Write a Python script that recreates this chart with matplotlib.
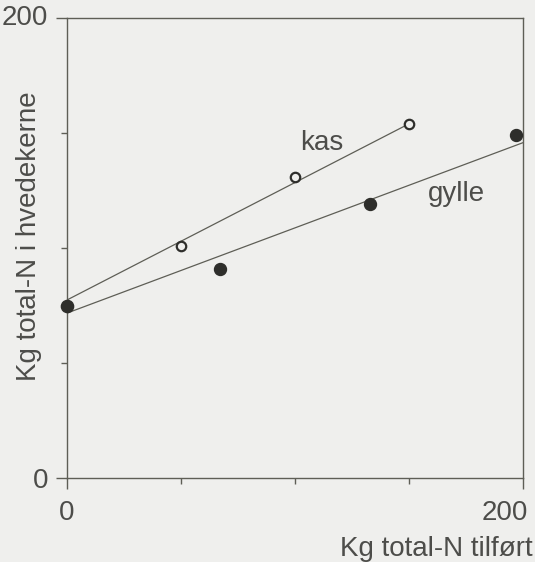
import matplotlib
matplotlib.use("Agg")
import matplotlib.pyplot as plt
import matplotlib.transforms as mtransforms

# ---- data ----
kas_x = [50, 100, 150]
kas_y = [101, 131, 154]
gylle_x = [67, 133, 197]
gylle_y = [91, 119, 149]
zero_x = [0]
zero_y = [75]

kas_line_x = [0, 150]
kas_line_y = [77.4, 154]
gylle_line_x = [0, 200]
gylle_line_y = [71.7, 145.8]

x_major = [0, 200]
x_minor = [50, 100, 150]
y_major = [0, 200]
y_minor = [50, 100, 150]
x_ticklabels = ["0", "200"]
y_ticklabels = ["0", "200"]

xlabel = "Kg total-N tilført"
ylabel = "Kg total-N i hvedekerne"

# ---- style ----
plt.rcParams['font.family'] = ['Liberation Sans', 'DejaVu Sans']
bg = "#efefed"
txt = "#4d4d4a"
linec = "#5e5e56"
markc = "#2e2e2b"
fs = 20

fig = plt.figure(figsize=(5.35, 5.62), dpi=100, facecolor=bg)
ax = fig.add_axes([67/535, 1 - 478/562, (523-67)/535, (478-18)/562])
ax.set_facecolor(bg)

ax.plot(kas_line_x, kas_line_y, color=linec, lw=0.9, zorder=2)
ax.plot(gylle_line_x, gylle_line_y, color=linec, lw=0.9, zorder=2)
ax.plot(kas_x, kas_y, 'o', ms=6.8, mfc=bg, mec=markc, mew=1.6, zorder=3, clip_on=False)
ax.plot(gylle_x, gylle_y, 'o', ms=8.6, color=markc, zorder=3, clip_on=False)
ax.plot(zero_x, zero_y, 'o', ms=8.8, color=markc, zorder=3, clip_on=False)

ax.text(111.8, 142.6, "kas", ha='center', va='baseline', fontsize=fs, color=txt)
ax.text(170.6, 120.4, "gylle", ha='center', va='baseline', fontsize=fs, color=txt)

ax.set_xlim(0, 200)
ax.set_ylim(0, 200)

for s in ax.spines.values():
    s.set_color(linec)
    s.set_linewidth(1.0)

ax.set_xticks(x_major)
ax.set_xticklabels(x_ticklabels)
ax.set_xticks(x_minor, minor=True)
ax.set_yticks(y_major)
ax.set_yticklabels(y_ticklabels)
ax.set_yticks(y_minor, minor=True)

ax.tick_params(which='major', direction='out', length=8, width=1.0, color=linec,
               labelsize=fs, labelcolor=txt)
ax.tick_params(axis='x', which='major', pad=8)
ax.tick_params(axis='y', which='major', pad=5.5)
ax.tick_params(which='minor', direction='out', length=4, width=1.0, color=linec)

# shift the "200" x tick label to sit right-aligned at the tick
xtl = ax.get_xticklabels()
xtl[1].set_ha('right')
xtl[1].set_transform(xtl[1].get_transform() + mtransforms.ScaledTranslation(0.05, 0, fig.dpi_scale_trans))
ytl = ax.get_yticklabels()
ytl[1].set_va('center')

ax.set_xlabel(xlabel, fontsize=fs, color=txt, ha='right', va='baseline')
ax.xaxis.set_label_coords((533-67)/456, (478-556)/460)
ax.set_ylabel(ylabel, fontsize=fs, color=txt, ha='center', va='bottom')
ax.yaxis.set_label_coords((42-67)/456, (478-236)/460)

fig.savefig("out.png", dpi=100, facecolor=bg)
